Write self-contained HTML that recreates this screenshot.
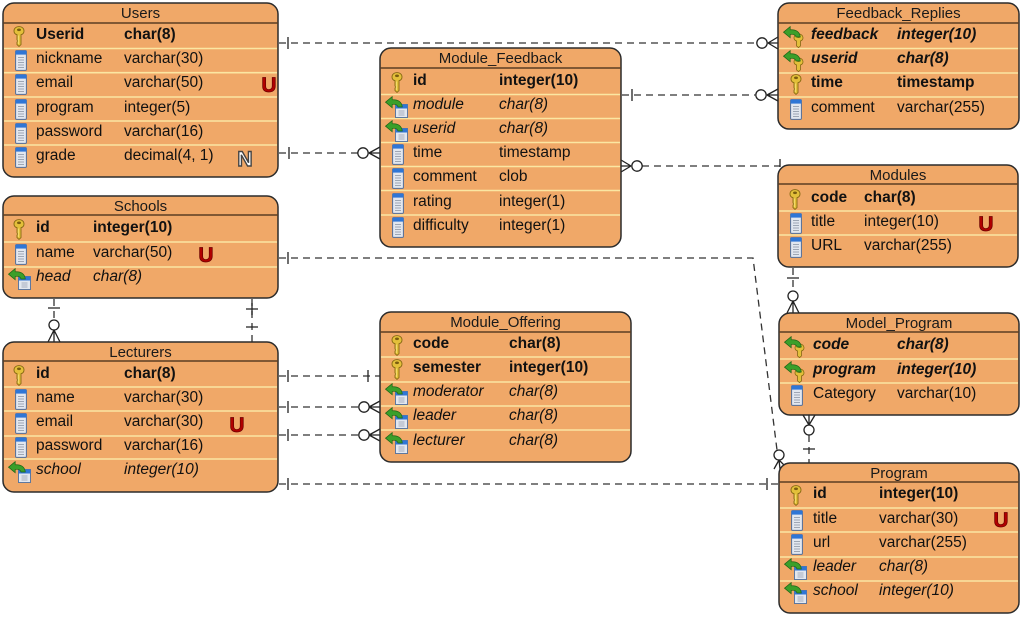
<!DOCTYPE html>
<html><head><meta charset="utf-8"><style>
html,body{margin:0;padding:0;background:#fff;}
svg{display:block;}
text{font-family:"Liberation Sans",sans-serif;font-size:15.5px;fill:#111;}
.t{font-size:15px;text-anchor:middle;fill:#1a1a1a;}
.b{font-weight:bold;}
.i{font-style:italic;}
.bi{font-weight:bold;font-style:italic;}
.u{font-weight:bold;font-size:21px;fill:#b00000;stroke:#6a0000;stroke-width:0.7;text-anchor:middle;}
.nn{font-weight:bold;font-size:21px;fill:#fff;stroke:#444;stroke-width:1.4;text-anchor:middle;}
.box{fill:#F0A868;stroke:#2b2b2b;stroke-width:1.5;}
.hl{stroke:#5b3d22;stroke-width:1.5;}
.sp{stroke:#FBE6A2;stroke-width:1.6;}
</style></head><body>
<svg width="1024" height="622" viewBox="0 0 1024 622" xmlns="http://www.w3.org/2000/svg">
<defs>
<symbol id="key" viewBox="0 0 12 21">
<path d="M6 0.6 C9 0.6 11 2.4 11 5 C11 7 9.6 8.3 8 8.7 L8 18.6 L6 20.4 L4 18.6 L4 16 L5 15 L4 14 L4 8.7 C2.4 8.3 1 7 1 5 C1 2.4 3 0.6 6 0.6 Z" fill="#e3bf3a" stroke="#856812" stroke-width="0.9"/>
<ellipse cx="6" cy="3.8" rx="2" ry="1.3" fill="#7a5d10"/>
<line x1="5.3" y1="9.5" x2="5.3" y2="18" stroke="#f7e27a" stroke-width="0.9"/>
</symbol>
<symbol id="col" viewBox="0 0 12 21">
<rect x="0.6" y="0.6" width="10.8" height="19.8" rx="1" fill="#e2e7ef" stroke="#4f6f9e" stroke-width="1"/>
<rect x="0.6" y="0.6" width="10.8" height="4" fill="#2f76d6"/>
<g stroke="#8d96a6" stroke-width="0.8"><line x1="3" y1="7.5" x2="9" y2="7.5"/><line x1="3" y1="10" x2="9" y2="10"/><line x1="3" y1="12.5" x2="9" y2="12.5"/><line x1="3" y1="15" x2="9" y2="15"/><line x1="3" y1="17.5" x2="9" y2="17.5"/></g>
</symbol>
<symbol id="fk" viewBox="0 0 24 22">
<rect x="10.5" y="8.5" width="12" height="13" fill="#e2e7ef" stroke="#4f6f9e" stroke-width="0.9"/>
<rect x="10.5" y="8.5" width="12" height="4" fill="#2f76d6"/>
<g stroke="#8d96a6" stroke-width="0.7"><line x1="13.5" y1="15" x2="19.5" y2="15"/><line x1="13.5" y1="17" x2="19.5" y2="17"/><line x1="13.5" y1="19" x2="19.5" y2="19"/></g>
<path d="M0.5 6.2 L7.2 0.6 L7.2 3.8 C12.5 3.3 16.8 5.6 17.3 11 L13 11 C12.4 8.8 10.3 8 7.2 8.4 L7.2 11.8 Z" fill="#3b9f2a" stroke="#1e6416" stroke-width="0.7"/>
</symbol>
<symbol id="fkk" viewBox="0 0 24 22">
<path d="M15.5 8 C18.2 8 20 9.6 20 11.8 C20 13.5 18.9 14.6 17.4 15 L17.4 20 L15.5 21.6 L13.6 20 L13.6 15 C12.1 14.6 11 13.5 11 11.8 C11 9.6 12.8 8 15.5 8 Z" fill="#e3bf3a" stroke="#856812" stroke-width="0.8"/>
<ellipse cx="15.5" cy="10.8" rx="1.7" ry="1.1" fill="#7a5d10"/>
<path d="M0.5 6.2 L7.2 0.6 L7.2 3.8 C12.5 3.3 16.8 5.6 17.3 11 L13 11 C12.4 8.8 10.3 8 7.2 8.4 L7.2 11.8 Z" fill="#3b9f2a" stroke="#1e6416" stroke-width="0.7"/>
</symbol>
</defs>

<!-- dashed connectors -->
<g stroke="#333" stroke-width="1.3" fill="none" stroke-dasharray="7 5">
<path d="M279 43 H756"/>
<path d="M279 153 H358"/>
<path d="M622 95 H755"/>
<path d="M642 166 H780"/>
<path d="M279 258 H753 L777 450"/>
<path d="M793 268 V291"/>
<path d="M809 435 V463"/>
<path d="M279 484 H779"/>
<path d="M54 299 V320"/>
<path d="M252 299 V342"/>
<path d="M279 376 H380"/>
<path d="M279 407 H358"/>
<path d="M279 435 H358"/>
</g>
<!-- ticks, circles, crows -->
<g stroke="#222" stroke-width="1.3" fill="none">
<path d="M288 37 V49 M289 147 V159 M632 89 V101 M780 159 V167 M288 252 V264 M787 278 H799 M803 449 H815 M288 478 V490 M767 478 V490 M48 308 H60 M246 309 H258 M252 303 V315 M246 327 H258 M288 370 V382 M368 370 V382 M288 401 V413 M288 429 V441"/>
<path d="M768 43 L778 37 M768 43 L778 43 M768 43 L778 49"/>
<path d="M369 153 L380 147 M369 153 L380 153 M369 153 L380 159"/>
<path d="M767 95 L778 89 M767 95 L778 95 M767 95 L778 101"/>
<path d="M631 166 L621 160 M631 166 L621 166 M631 166 L621 172"/>
<path d="M779 460 L774 469 M779 460 L780 469 M779 460 L786 467"/>
<path d="M793 301 L787 313 M793 301 L793 313 M793 301 L799 313"/>
<path d="M809 425 L803 415 M809 425 L809 415 M809 425 L815 415"/>
<path d="M54 330 L48 342 M54 330 L54 342 M54 330 L60 342"/>
<path d="M369 407 L380 401 M369 407 L380 407 M369 407 L380 413"/>
<path d="M369 435 L380 429 M369 435 L380 435 M369 435 L380 441"/>
</g>
<g stroke="#222" stroke-width="1.3" fill="#fff">
<circle cx="762" cy="43" r="5.2"/>
<circle cx="363" cy="153" r="5.2"/>
<circle cx="761" cy="95" r="5.2"/>
<circle cx="637" cy="166" r="5.2"/>
<circle cx="779" cy="455" r="5"/>
<circle cx="793" cy="296" r="5"/>
<circle cx="809" cy="430" r="5"/>
<circle cx="54" cy="325" r="5"/>
<circle cx="364" cy="407" r="5.2"/>
<circle cx="364" cy="435" r="5.2"/>
</g>

<!-- Users -->
<rect class="box" x="3" y="3" width="275" height="174" rx="11"/>
<line class="hl" x1="3" y1="23" x2="278" y2="23"/>
<g class="sp"><line x1="4" x2="277" y1="48.5" y2="48.5"/><line x1="4" x2="277" y1="72.7" y2="72.7"/><line x1="4" x2="277" y1="97" y2="97"/><line x1="4" x2="277" y1="121" y2="121"/><line x1="4" x2="277" y1="145" y2="145"/></g>
<text class="t" x="140.5" y="18">Users</text>
<use href="#key" x="13" y="26" width="12" height="21"/>
<use href="#col" x="15" y="50" width="12" height="21"/>
<use href="#col" x="15" y="74" width="12" height="21"/>
<use href="#col" x="15" y="99" width="12" height="21"/>
<use href="#col" x="15" y="123" width="12" height="21"/>
<use href="#col" x="15" y="147" width="12" height="21"/>
<text class="b" x="36" y="39">Userid</text><text class="b" x="124" y="39">char(8)</text>
<text x="36" y="63">nickname</text><text x="124" y="63">varchar(30)</text>
<text x="36" y="87">email</text><text x="124" y="87">varchar(50)</text>
<text x="36" y="112">program</text><text x="124" y="112">integer(5)</text>
<text x="36" y="136">password</text><text x="124" y="136">varchar(16)</text>
<text x="36" y="160">grade</text><text x="124" y="160">decimal(4, 1)</text>
<text class="u" x="269" y="92">U</text>
<text class="nn" x="245" y="166">N</text>

<!-- Module_Feedback -->
<rect class="box" x="380" y="48" width="241" height="199" rx="11"/>
<line class="hl" x1="380" y1="68" x2="621" y2="68"/>
<g class="sp"><line x1="381" x2="620" y1="94.5" y2="94.5"/><line x1="381" x2="620" y1="118.5" y2="118.5"/><line x1="381" x2="620" y1="142.5" y2="142.5"/><line x1="381" x2="620" y1="166.5" y2="166.5"/><line x1="381" x2="620" y1="190.5" y2="190.5"/><line x1="381" x2="620" y1="215" y2="215"/></g>
<text class="t" x="500.5" y="63">Module_Feedback</text>
<use href="#key" x="391" y="72" width="12" height="21"/>
<use href="#fk" x="385" y="96" width="24" height="22"/>
<use href="#fk" x="385" y="120" width="24" height="22"/>
<use href="#col" x="392" y="144" width="12" height="21"/>
<use href="#col" x="392" y="168" width="12" height="21"/>
<use href="#col" x="392" y="193" width="12" height="21"/>
<use href="#col" x="392" y="217" width="12" height="21"/>
<text class="b" x="413" y="85">id</text><text class="b" x="499" y="85">integer(10)</text>
<text class="i" x="413" y="109">module</text><text class="i" x="499" y="109">char(8)</text>
<text class="i" x="413" y="133">userid</text><text class="i" x="499" y="133">char(8)</text>
<text x="413" y="157">time</text><text x="499" y="157">timestamp</text>
<text x="413" y="181">comment</text><text x="499" y="181">clob</text>
<text x="413" y="206">rating</text><text x="499" y="206">integer(1)</text>
<text x="413" y="230">difficulty</text><text x="499" y="230">integer(1)</text>

<!-- Feedback_Replies -->
<rect class="box" x="778" y="3" width="241" height="126" rx="11"/>
<line class="hl" x1="778" y1="23" x2="1019" y2="23"/>
<g class="sp"><line x1="779" x2="1018" y1="48.5" y2="48.5"/><line x1="779" x2="1018" y1="73" y2="73"/><line x1="779" x2="1018" y1="97" y2="97"/></g>
<text class="t" x="898.5" y="18">Feedback_Replies</text>
<use href="#fkk" x="783" y="26" width="24" height="22"/>
<use href="#fkk" x="783" y="50" width="24" height="22"/>
<use href="#key" x="790" y="74" width="12" height="21"/>
<use href="#col" x="790" y="99" width="12" height="21"/>
<text class="bi" x="811" y="39">feedback</text><text class="bi" x="897" y="39">integer(10)</text>
<text class="bi" x="811" y="63">userid</text><text class="bi" x="897" y="63">char(8)</text>
<text class="b" x="811" y="87">time</text><text class="b" x="897" y="87">timestamp</text>
<text x="811" y="112">comment</text><text x="897" y="112">varchar(255)</text>

<!-- Modules -->
<rect class="box" x="778" y="165" width="240" height="102" rx="11"/>
<line class="hl" x1="778" y1="184" x2="1018" y2="184"/>
<g class="sp"><line x1="779" x2="1017" y1="211" y2="211"/><line x1="779" x2="1017" y1="235" y2="235"/></g>
<text class="t" x="898" y="180">Modules</text>
<use href="#key" x="789" y="189" width="12" height="21"/>
<use href="#col" x="790" y="213" width="12" height="21"/>
<use href="#col" x="790" y="237" width="12" height="21"/>
<text class="b" x="811" y="202">code</text><text class="b" x="864" y="202">char(8)</text>
<text x="811" y="226">title</text><text x="864" y="226">integer(10)</text>
<text x="811" y="250">URL</text><text x="864" y="250">varchar(255)</text>
<text class="u" x="986" y="231">U</text>

<!-- Model_Program -->
<rect class="box" x="779" y="313" width="240" height="102" rx="11"/>
<line class="hl" x1="779" y1="332" x2="1019" y2="332"/>
<g class="sp"><line x1="780" x2="1018" y1="359" y2="359"/><line x1="780" x2="1018" y1="383" y2="383"/></g>
<text class="t" x="899" y="328">Model_Program</text>
<use href="#fkk" x="784" y="336" width="24" height="22"/>
<use href="#fkk" x="784" y="361" width="24" height="22"/>
<use href="#col" x="791" y="385" width="12" height="21"/>
<text class="bi" x="813" y="349">code</text><text class="bi" x="897" y="349">char(8)</text>
<text class="bi" x="813" y="374">program</text><text class="bi" x="897" y="374">integer(10)</text>
<text x="813" y="398">Category</text><text x="897" y="398">varchar(10)</text>

<!-- Program -->
<rect class="box" x="779" y="463" width="240" height="150" rx="11"/>
<line class="hl" x1="779" y1="482" x2="1019" y2="482"/>
<g class="sp"><line x1="780" x2="1018" y1="508" y2="508"/><line x1="780" x2="1018" y1="532" y2="532"/><line x1="780" x2="1018" y1="557" y2="557"/><line x1="780" x2="1018" y1="581" y2="581"/></g>
<text class="t" x="899" y="478">Program</text>
<use href="#key" x="790" y="485" width="12" height="21"/>
<use href="#col" x="791" y="510" width="12" height="21"/>
<use href="#col" x="791" y="534" width="12" height="21"/>
<use href="#fk" x="784" y="558" width="24" height="22"/>
<use href="#fk" x="784" y="582" width="24" height="22"/>
<text class="b" x="813" y="498">id</text><text class="b" x="879" y="498">integer(10)</text>
<text x="813" y="523">title</text><text x="879" y="523">varchar(30)</text>
<text x="813" y="547">url</text><text x="879" y="547">varchar(255)</text>
<text class="i" x="813" y="571">leader</text><text class="i" x="879" y="571">char(8)</text>
<text class="i" x="813" y="595">school</text><text class="i" x="879" y="595">integer(10)</text>
<text class="u" x="1001" y="527">U</text>

<!-- Schools -->
<rect class="box" x="3" y="196" width="275" height="102" rx="11"/>
<line class="hl" x1="3" y1="215" x2="278" y2="215"/>
<g class="sp"><line x1="4" x2="277" y1="242" y2="242"/><line x1="4" x2="277" y1="267" y2="267"/></g>
<text class="t" x="140.5" y="211">Schools</text>
<use href="#key" x="13" y="219" width="12" height="21"/>
<use href="#col" x="15" y="244" width="12" height="21"/>
<use href="#fk" x="8" y="268" width="24" height="22"/>
<text class="b" x="36" y="232">id</text><text class="b" x="93" y="232">integer(10)</text>
<text x="36" y="257">name</text><text x="93" y="257">varchar(50)</text>
<text class="i" x="36" y="281">head</text><text class="i" x="93" y="281">char(8)</text>
<text class="u" x="206" y="262">U</text>

<!-- Lecturers -->
<rect class="box" x="3" y="342" width="275" height="150" rx="11"/>
<line class="hl" x1="3" y1="361" x2="278" y2="361"/>
<g class="sp"><line x1="4" x2="277" y1="387" y2="387"/><line x1="4" x2="277" y1="411" y2="411"/><line x1="4" x2="277" y1="436" y2="436"/><line x1="4" x2="277" y1="459" y2="459"/></g>
<text class="t" x="140.5" y="357">Lecturers</text>
<use href="#key" x="13" y="365" width="12" height="21"/>
<use href="#col" x="15" y="389" width="12" height="21"/>
<use href="#col" x="15" y="413" width="12" height="21"/>
<use href="#col" x="15" y="437" width="12" height="21"/>
<use href="#fk" x="8" y="461" width="24" height="22"/>
<text class="b" x="36" y="378">id</text><text class="b" x="124" y="378">char(8)</text>
<text x="36" y="402">name</text><text x="124" y="402">varchar(30)</text>
<text x="36" y="426">email</text><text x="124" y="426">varchar(30)</text>
<text x="36" y="450">password</text><text x="124" y="450">varchar(16)</text>
<text class="i" x="36" y="474">school</text><text class="i" x="124" y="474">integer(10)</text>
<text class="u" x="237" y="432">U</text>

<!-- Module_Offering -->
<rect class="box" x="380" y="312" width="251" height="150" rx="11"/>
<line class="hl" x1="380" y1="332" x2="631" y2="332"/>
<g class="sp"><line x1="381" x2="630" y1="357" y2="357"/><line x1="381" x2="630" y1="382" y2="382"/><line x1="381" x2="630" y1="406" y2="406"/><line x1="381" x2="630" y1="430" y2="430"/></g>
<text class="t" x="505.5" y="327">Module_Offering</text>
<use href="#key" x="391" y="335" width="12" height="21"/>
<use href="#key" x="391" y="359" width="12" height="21"/>
<use href="#fk" x="385" y="383" width="24" height="22"/>
<use href="#fk" x="385" y="407" width="24" height="22"/>
<use href="#fk" x="385" y="432" width="24" height="22"/>
<text class="b" x="413" y="348">code</text><text class="b" x="509" y="348">char(8)</text>
<text class="b" x="413" y="372">semester</text><text class="b" x="509" y="372">integer(10)</text>
<text class="i" x="413" y="396">moderator</text><text class="i" x="509" y="396">char(8)</text>
<text class="i" x="413" y="420">leader</text><text class="i" x="509" y="420">char(8)</text>
<text class="i" x="413" y="445">lecturer</text><text class="i" x="509" y="445">char(8)</text>
</svg>
</body></html>
